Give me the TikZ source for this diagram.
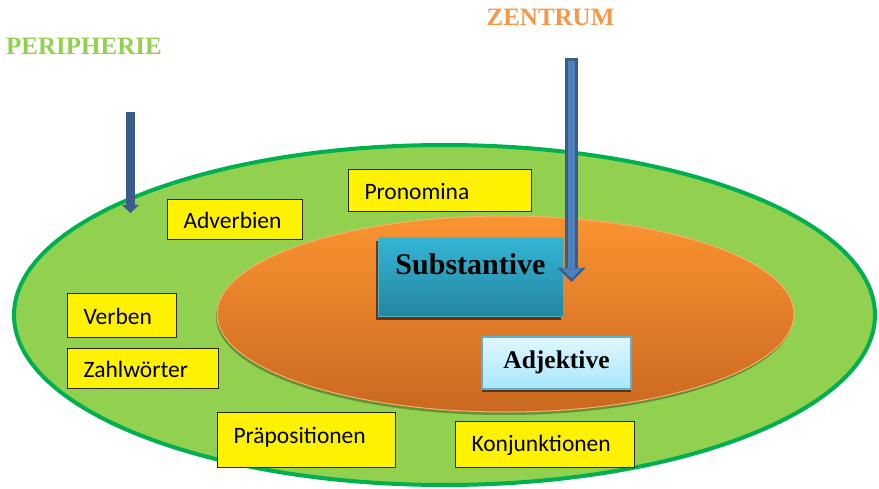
\documentclass[tikz,border=0pt]{standalone}
\usepackage{fontspec}
\setmainfont{Liberation Serif}
\newfontfamily\boxfont{Carlito}
\usetikzlibrary{shapes,arrows.meta,shadows}
\definecolor{periGreen}{RGB}{146,208,80}
\definecolor{periLine}{RGB}{0,176,80}
\definecolor{zentTop}{RGB}{250,148,48}
\definecolor{zentBottom}{RGB}{202,104,32}
\definecolor{zentEdge}{RGB}{250,175,110}
\definecolor{zentOrange}{RGB}{247,150,70}
\definecolor{substTop}{RGB}{52,180,214}
\definecolor{substBottom}{RGB}{36,134,158}
\definecolor{substLine}{RGB}{80,175,205}
\definecolor{adjTop}{RGB}{224,247,254}
\definecolor{adjBottom}{RGB}{168,231,252}
\definecolor{adjLine}{RGB}{90,175,215}
\definecolor{arrowDark}{RGB}{56,93,138}
\definecolor{arrowBlue}{RGB}{79,129,189}
\definecolor{boxLine}{RGB}{40,40,20}

\begin{document}
\begin{tikzpicture}[x=1pt,y=-1pt,
  wordbox/.style={rectangle,draw=boxLine,line width=0.9pt,fill=yellow,inner xsep=16.5pt,inner ysep=0pt,align=left,text height=19pt,text depth=0pt,font=\boxfont\fontsize{23.5}{28}\selectfont},
  classbox/.style={rectangle,inner sep=0pt,line width=1pt},
  arrowstyle/.style={draw=arrowDark,line width=9pt,-{Triangle[width=17pt,length=8pt,line width=0pt]}}]
\useasboundingbox (0,0) rectangle (879,489);
       \node [ellipse,draw=periLine,line width=4pt,fill=periGreen,minimum width=861,minimum height=340,inner sep=0pt] (peri) at (444.5,315) {};
       \node [ellipse,draw=zentEdge,line width=1pt,top color=zentTop,bottom color=zentBottom,minimum width=577,minimum height=196,inner sep=0pt,drop shadow={shadow xshift=-1pt,shadow yshift=-3pt,fill=black,opacity=0.3}] (zent) at (505.5,314) {};
       \node [wordbox,text width=150pt,minimum height=42] (pron) at (439.5,190) {Pronomina};
       \node [wordbox,text width=102pt,minimum height=40] (adv) at (234.5,219) {Adverbien};
       \node [wordbox,text width=76pt,minimum height=44] (verb) at (121.5,315) {Verben};
       \node [wordbox,text width=118pt,minimum height=40] (zahl) at (142.5,368) {Zahlwörter};
       \node [wordbox,text width=145pt,minimum height=55,text depth=12pt] (prae) at (306,439.5) {Präpositionen};
       \node [wordbox,text width=146pt,minimum height=46,text depth=5pt] (konj) at (544.5,444) {Konjunktionen};
       \node [classbox,minimum width=185,text height=37pt,text depth=42pt,top color=substTop,bottom color=substBottom,draw=substLine,drop shadow={shadow xshift=-2pt,shadow yshift=-3pt,fill=black!80!orange,opacity=0.7},font=\bfseries\fontsize{30}{36}\selectfont] (subst) at (470.5,277.5) {Substantive};
       \node [classbox,minimum width=149,text height=31pt,text depth=21pt,top color=adjTop,bottom color=adjBottom,draw=adjLine,line width=1.5pt,drop shadow={shadow xshift=0pt,shadow yshift=-3pt,fill=black!80!orange,opacity=0.7},font=\bfseries\fontsize{25.5}{30}\selectfont] (adj) at (556.5,363) {Adjektive};
       \node [anchor=base,text=periGreen,font=\bfseries\fontsize{25}{30}\selectfont] (perilabel) at (84,55) {PERIPHERIE};
       \node [anchor=base,text=zentOrange,font=\bfseries\fontsize{25}{30}\selectfont] (zentlabel) at (550.5,26) {ZENTRUM};
\coordinate (periTop) at (130.5,112);
\coordinate (periTip) at (130.5,213);
\coordinate (zentTopEnd) at (571.5,58);
\coordinate (zentTip) at (571.5,282);
\coordinate (zentInTop) at (571.5,61);
\coordinate (zentInTip) at (571.5,278.5);
\draw [arrowstyle] (periTop)--(periTip) ;
\draw [arrowstyle,line width=13pt,-{Triangle[width=28pt,length=14pt,line width=0pt]}] (zentTopEnd)--(zentTip) ;
\draw [arrowstyle,draw=arrowBlue,line width=7pt,-{Triangle[width=20pt,length=10pt,line width=0pt]}] (zentInTop)--(zentInTip) ;
\end{tikzpicture}
\end{document}
